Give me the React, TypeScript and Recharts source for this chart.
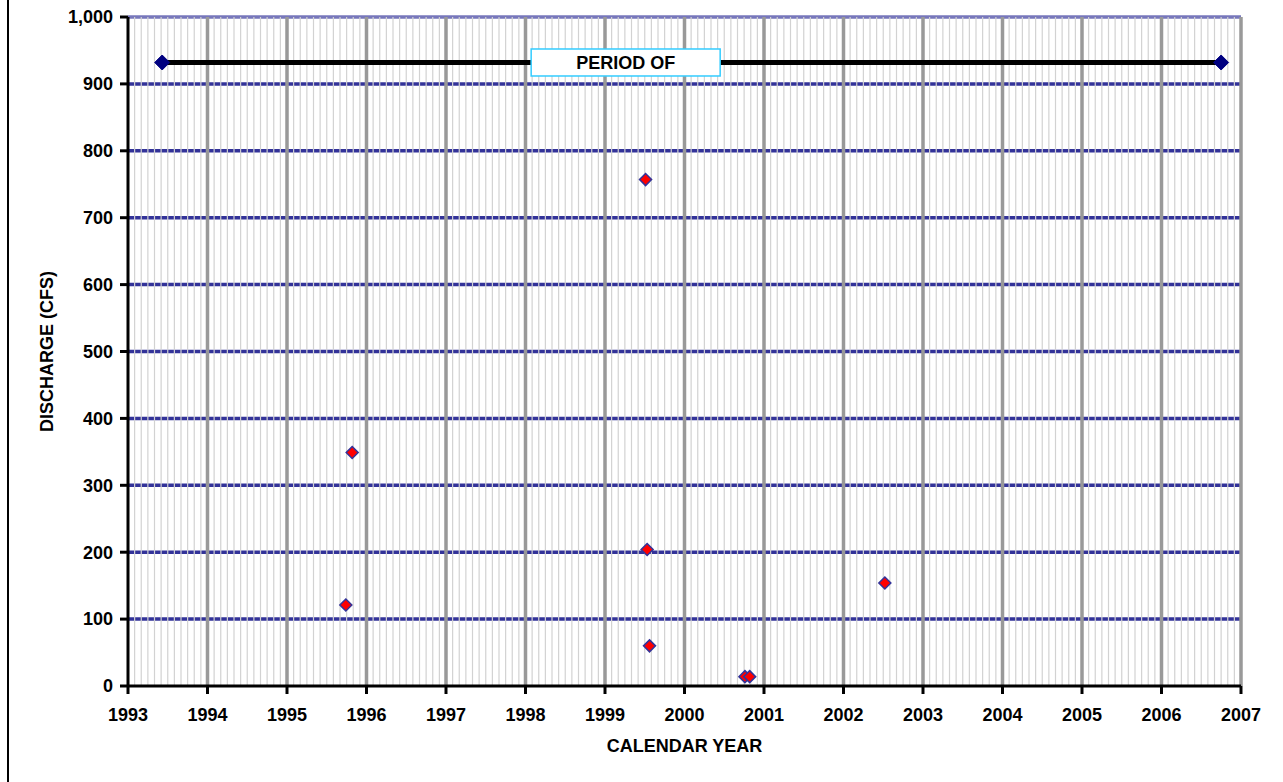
import { ScatterChart, Scatter, XAxis, YAxis, ReferenceLine, Label } from "recharts";

const years = [1993, 1994, 1995, 1996, 1997, 1998, 1999, 2000, 2001, 2002, 2003, 2004, 2005, 2006, 2007];
const dischargeTicks = [0, 100, 200, 300, 400, 500, 600, 700, 800, 900, 1000];

// period of record bar across the top
const periodOfRecord = [
  { year: 1993.43, cfs: 932 },
  { year: 2006.75, cfs: 932 },
];
const periodLabel = [{ year: 1999.26, cfs: 932, text: "PERIOD OF" }];

// measured discharges
const measurements = [
  { year: 1995.74, cfs: 121 },
  { year: 1995.82, cfs: 349 },
  { year: 1999.51, cfs: 757 },
  { year: 1999.53, cfs: 204 },
  { year: 1999.56, cfs: 60 },
  { year: 2000.76, cfs: 14 },
  { year: 2000.82, cfs: 14 },
  { year: 2002.52, cfs: 154 },
];

// monthly minor grid
const monthLines: number[] = [];
for (let i = 1; i < (years.length - 1) * 12; i++) {
  if (i % 12 !== 0) monthLines.push(years[0] + i / 12);
}

const font = '"Liberation Sans", Arial, sans-serif';
const tickStyle = { fill: "#000", fontSize: 18, fontWeight: 700, fontFamily: font };

const diamond = (r: number, fill: string, stroke: string, sw: number) =>
  function Diamond(props: any) {
    const { cx, cy } = props;
    if (cx == null || cy == null) return null;
    return (
      <polygon
        points={`${cx},${cy - r} ${cx + r},${cy} ${cx},${cy + r} ${cx - r},${cy}`}
        fill={fill}
        stroke={stroke}
        strokeWidth={sw}
      />
    );
  };

function PeriodBox(props: any) {
  const { cx, cy, payload } = props;
  if (cx == null || cy == null) return null;
  const w = 189;
  const h = 27;
  return (
    <g>
      <rect x={cx - w / 2} y={cy - h / 2} width={w} height={h} fill="#fff" stroke="#33ccff" strokeWidth={1.5} />
      <text x={cx} y={cy + 6.5} textAnchor="middle" fontFamily={font} fontSize={18} fontWeight={700} fill="#000">
        {payload?.text}
      </text>
    </g>
  );
}

export default function App() {
  return (
    <div style={{ position: "absolute", left: 0, top: 0, width: 1283, height: 782, background: "#fff" }}>
      <div style={{ position: "absolute", left: 7, top: 0, width: 2, height: 782, background: "#000" }} />
      <ScatterChart width={1283} height={782} margin={{ top: 17, right: 42, bottom: 0, left: 0 }}>
        <XAxis
          type="number"
          dataKey="year"
          domain={[1993, 2007]}
          ticks={years}
          interval={0}
          height={96}
          tick={tickStyle}
          tickSize={8}
          tickMargin={14}
          axisLine={{ stroke: "#000", strokeWidth: 3 }}
          tickLine={{ stroke: "#000", strokeWidth: 3 }}
          allowDecimals
        >
          <Label
            content={(p: any) => {
              const vb = p.viewBox || { x: 128, y: 686, width: 1113, height: 96 };
              return (
                <text x={vb.x + vb.width / 2} y={vb.y + 66} textAnchor="middle" fontFamily={font} fontSize={18} fontWeight={700} fill="#000">
                  CALENDAR YEAR
                </text>
              );
            }}
          />
        </XAxis>
        <YAxis
          type="number"
          dataKey="cfs"
          domain={[0, 1000]}
          ticks={dischargeTicks}
          interval={0}
          width={128}
          tick={tickStyle}
          tickSize={8}
          tickMargin={7}
          tickFormatter={(v: number) => v.toLocaleString("en-US")}
          axisLine={{ stroke: "#000", strokeWidth: 3 }}
          tickLine={{ stroke: "#000", strokeWidth: 3 }}
        >
          <Label
            content={(p: any) => {
              const vb = p.viewBox || { x: 0, y: 17, width: 128, height: 669 };
              const cx = vb.x + 46;
              const cy = vb.y + vb.height / 2;
              return (
                <text
                  x={cx}
                  y={cy}
                  dy={6.5}
                  transform={`rotate(-90 ${cx} ${cy})`}
                  textAnchor="middle"
                  fontFamily={font}
                  fontSize={18}
                  fontWeight={700}
                  fill="#000"
                >
                  DISCHARGE (CFS)
                </text>
              );
            }}
          />
        </YAxis>

        {dischargeTicks.slice(1).map((v) => (
          <ReferenceLine key={`h${v}`} y={v} stroke={v === 1000 ? "#7777bb" : "#333399"} strokeWidth={3.5} />
        ))}
        {monthLines.map((m) => (
          <ReferenceLine key={`m${m}`} x={m} stroke="#d2d2d2" strokeWidth={1.2} />
        ))}
        {years.slice(1).map((y) => (
          <ReferenceLine key={`y${y}`} x={y} stroke="#999999" strokeWidth={3.5} />
        ))}

        <Scatter
          data={periodOfRecord}
          line={{ stroke: "#000", strokeWidth: 5 }}
          shape={diamond(7.5, "#000080", "#000080", 1)}
          isAnimationActive={false}
        />
        <Scatter data={periodLabel} shape={PeriodBox} isAnimationActive={false} />
        <Scatter data={measurements} shape={diamond(6, "#ff0000", "#333399", 1.5)} isAnimationActive={false} />
      </ScatterChart>
    </div>
  );
}
